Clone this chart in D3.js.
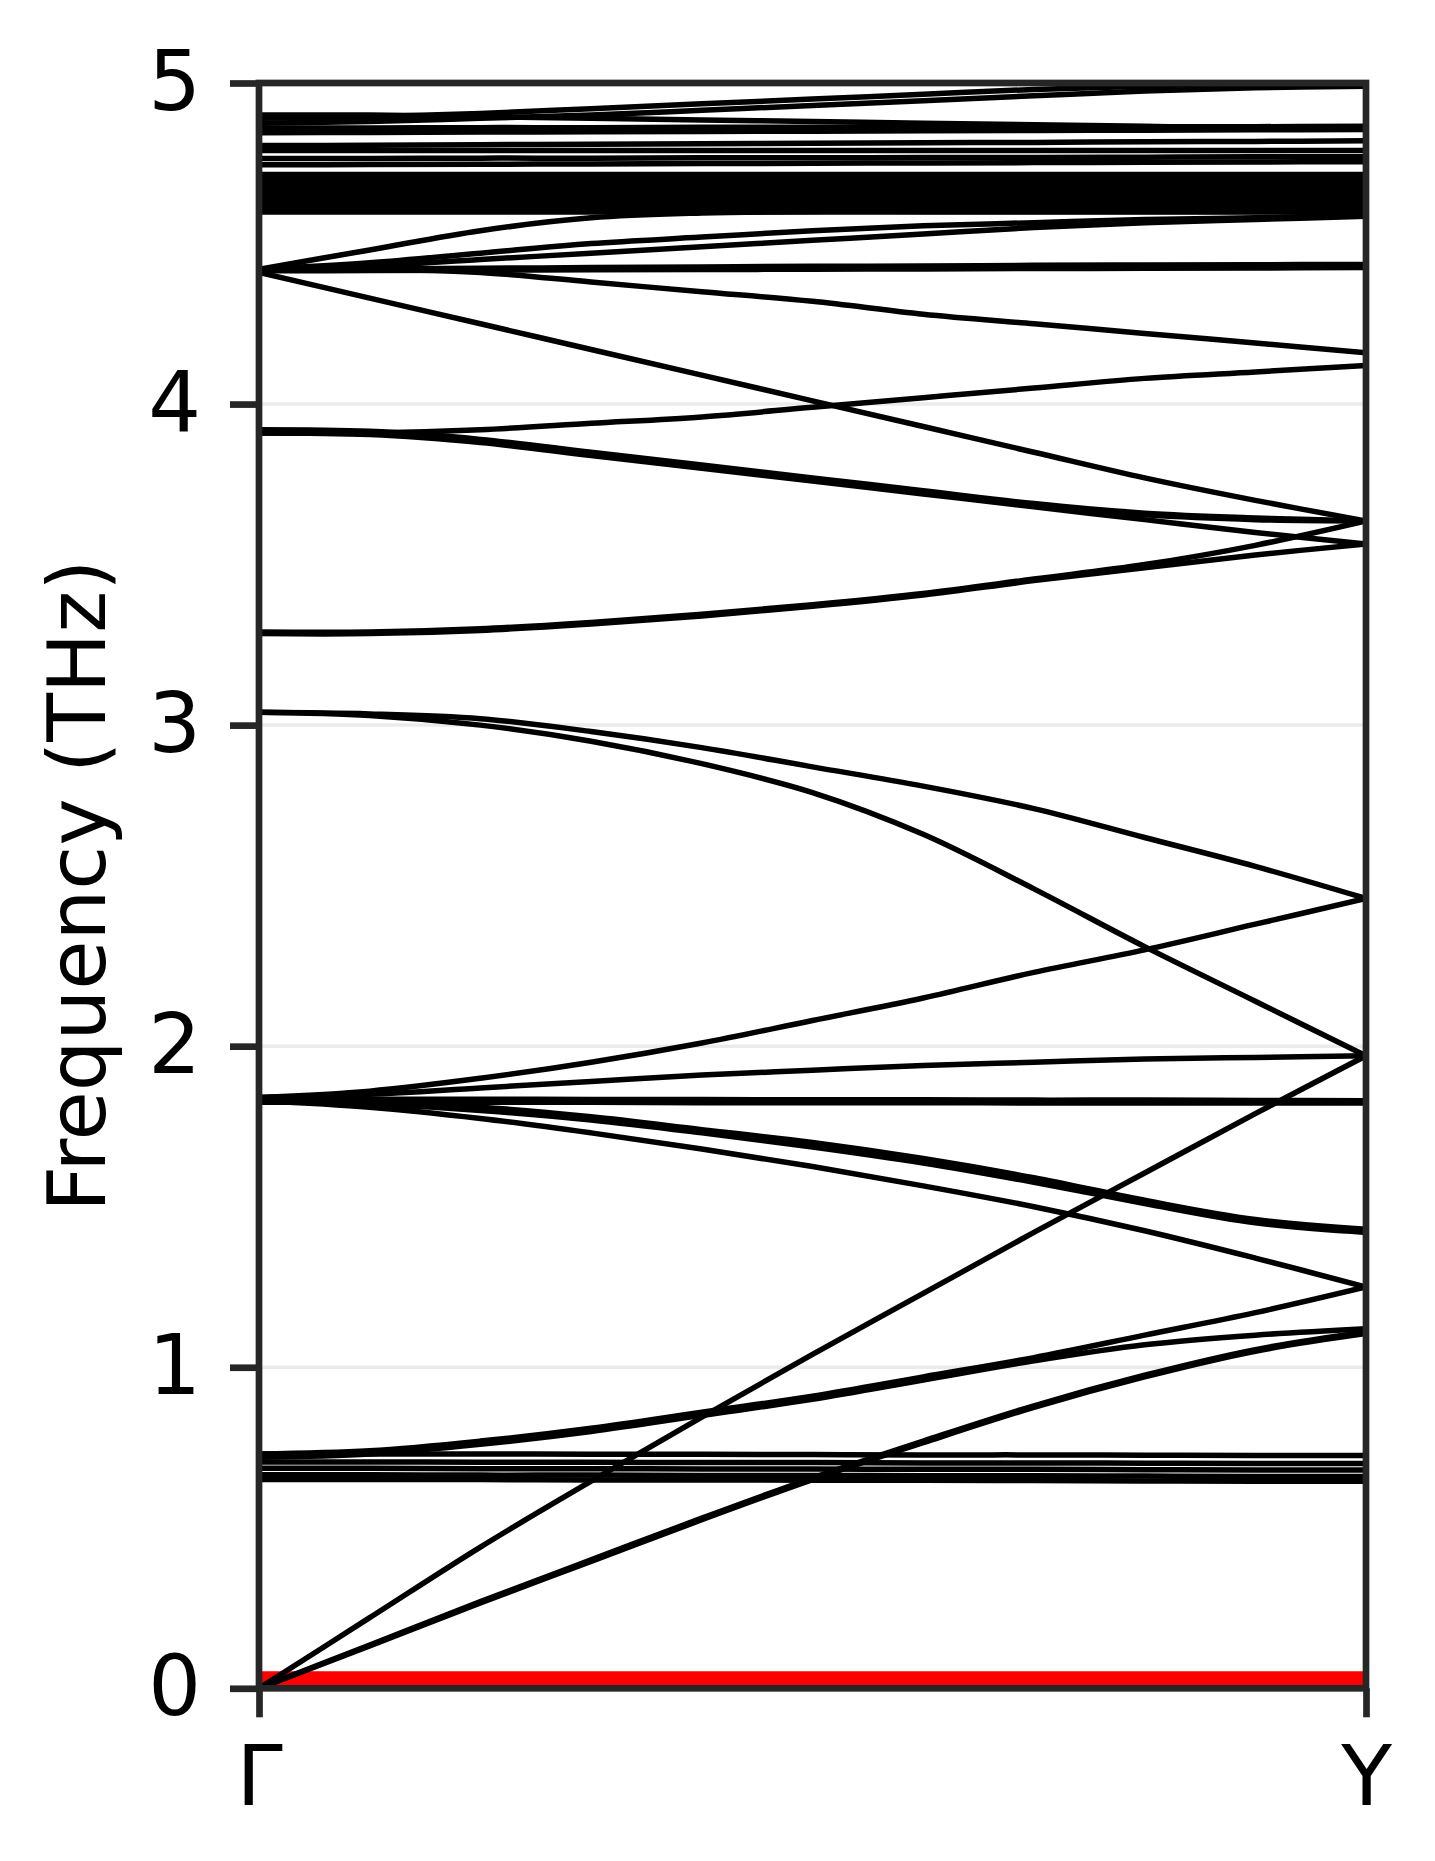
<!DOCTYPE html>
<html>
<head>
<meta charset="utf-8">
<script src="https://cdn.jsdelivr.net/npm/d3@7"></script>
<style>
  body { margin: 0; background: #fff; }
  svg { display: block; }
  text { font-family: "DejaVu Sans", sans-serif; }
</style>
</head>
<body>
<div id="bands"></div>
<script>

// path Γ -> Y, sampled every tenth of the segment
var kpts = [0, 0.1, 0.2, 0.3, 0.4, 0.5, 0.6, 0.7, 0.8, 0.9, 1.0];
var kLabels = ["Γ", "Y"];
var freqTicks = [0, 1, 2, 3, 4, 5];

// red branch sitting on zero
var zeroBand = [0, 0, 0, 0, 0, 0, 0, 0, 0, 0, 0];

// acoustic + low optical branches (THz)
var lowBands = [
  [0, 0.22, 0.44, 0.645, 0.845, 1.04, 1.23, 1.42, 1.605, 1.79, 1.97],
  [0, 0.135, 0.27, 0.40, 0.53, 0.655, 0.77, 0.88, 0.975, 1.055, 1.11],
  [0, 0.132, 0.266, 0.395, 0.525, 0.65, 0.765, 0.875, 0.97, 1.05, 1.105],
  [0.73, 0.73, 0.73, 0.729, 0.729, 0.728, 0.727, 0.727, 0.726, 0.725, 0.725],
  [0.705, 0.705, 0.704, 0.704, 0.703, 0.703, 0.702, 0.702, 0.701, 0.70, 0.70],
  [0.685, 0.685, 0.684, 0.684, 0.683, 0.683, 0.682, 0.682, 0.681, 0.68, 0.68],
  [0.665, 0.665, 0.664, 0.664, 0.663, 0.663, 0.662, 0.662, 0.661, 0.66, 0.66],
  [0.65, 0.65, 0.65, 0.649, 0.649, 0.648, 0.648, 0.647, 0.646, 0.645, 0.645],
  [0.73, 0.74, 0.77, 0.81, 0.86, 0.91, 0.97, 1.03, 1.10, 1.17, 1.25],
  [0.72, 0.73, 0.76, 0.80, 0.85, 0.90, 0.96, 1.02, 1.07, 1.10, 1.12]
];

// branches leaving the 1.83, 3.04, 3.28 and 3.9 THz groups
var midBands = [
  [1.84, 1.86, 1.90, 1.95, 2.01, 2.08, 2.15, 2.23, 2.30, 2.38, 2.46],
  [1.84, 1.85, 1.87, 1.89, 1.91, 1.925, 1.94, 1.95, 1.96, 1.965, 1.97],
  [1.835, 1.835, 1.835, 1.834, 1.834, 1.833, 1.833, 1.832, 1.832, 1.831, 1.83],
  [1.825, 1.825, 1.825, 1.825, 1.824, 1.824, 1.824, 1.823, 1.823, 1.823, 1.823],
  [1.83, 1.825, 1.81, 1.78, 1.74, 1.70, 1.65, 1.59, 1.52, 1.46, 1.43],
  [1.83, 1.822, 1.805, 1.775, 1.735, 1.692, 1.642, 1.582, 1.515, 1.455, 1.425],
  [1.83, 1.82, 1.80, 1.77, 1.73, 1.686, 1.636, 1.576, 1.51, 1.45, 1.42],
  [1.83, 1.81, 1.775, 1.73, 1.68, 1.625, 1.565, 1.50, 1.425, 1.34, 1.25],
  [3.04, 3.035, 3.02, 2.98, 2.93, 2.87, 2.81, 2.74, 2.65, 2.56, 2.46],
  [3.04, 3.03, 3.00, 2.95, 2.88, 2.79, 2.66, 2.49, 2.31, 2.14, 1.97],
  [3.29, 3.29, 3.30, 3.32, 3.345, 3.375, 3.41, 3.455, 3.50, 3.56, 3.636],
  [3.285, 3.285, 3.295, 3.315, 3.34, 3.37, 3.405, 3.45, 3.49, 3.53, 3.564],
  [3.92, 3.915, 3.89, 3.85, 3.81, 3.77, 3.73, 3.69, 3.66, 3.645, 3.636],
  [3.915, 3.91, 3.885, 3.845, 3.805, 3.765, 3.725, 3.685, 3.655, 3.64, 3.636],
  [3.91, 3.905, 3.88, 3.84, 3.80, 3.76, 3.72, 3.68, 3.64, 3.60, 3.564],
  [3.91, 3.91, 3.92, 3.94, 3.96, 3.99, 4.02, 4.05, 4.08, 4.10, 4.12]
];

// branches from 4.41 THz upward
var highBands = [
  [4.41, 4.33, 4.25, 4.17, 4.09, 4.01, 3.93, 3.85, 3.77, 3.70, 3.636],
  [4.42, 4.42, 4.41, 4.38, 4.35, 4.32, 4.28, 4.25, 4.22, 4.19, 4.16],
  [4.42, 4.421, 4.423, 4.425, 4.427, 4.429, 4.43, 4.432, 4.433, 4.434, 4.435],
  [4.415, 4.416, 4.417, 4.418, 4.419, 4.42, 4.421, 4.422, 4.423, 4.424, 4.425],
  [4.42, 4.48, 4.54, 4.58, 4.595, 4.60, 4.60, 4.60, 4.60, 4.60, 4.60],
  [4.42, 4.43, 4.45, 4.47, 4.49, 4.51, 4.53, 4.55, 4.565, 4.575, 4.585],
  [4.42, 4.44, 4.47, 4.50, 4.52, 4.54, 4.555, 4.565, 4.575, 4.58, 4.59],
  [4.598, 4.598, 4.598, 4.598, 4.598, 4.598, 4.598, 4.598, 4.598, 4.598, 4.598],
  [4.612, 4.612, 4.612, 4.612, 4.612, 4.612, 4.612, 4.612, 4.612, 4.612, 4.612],
  [4.626, 4.626, 4.626, 4.626, 4.626, 4.626, 4.626, 4.626, 4.626, 4.626, 4.626],
  [4.64, 4.64, 4.64, 4.64, 4.64, 4.64, 4.64, 4.64, 4.64, 4.64, 4.64],
  [4.655, 4.655, 4.655, 4.655, 4.655, 4.655, 4.655, 4.655, 4.655, 4.655, 4.655],
  [4.67, 4.67, 4.67, 4.67, 4.67, 4.67, 4.67, 4.67, 4.67, 4.67, 4.67],
  [4.685, 4.685, 4.685, 4.685, 4.685, 4.685, 4.685, 4.685, 4.685, 4.685, 4.685],
  [4.70, 4.70, 4.70, 4.70, 4.70, 4.70, 4.70, 4.70, 4.70, 4.70, 4.70],
  [4.715, 4.715, 4.715, 4.715, 4.715, 4.715, 4.715, 4.715, 4.715, 4.715, 4.715],
  [4.745, 4.746, 4.747, 4.748, 4.749, 4.75, 4.751, 4.752, 4.753, 4.754, 4.755],
  [4.765, 4.765, 4.766, 4.766, 4.767, 4.767, 4.768, 4.768, 4.769, 4.77, 4.77],
  [4.79, 4.79, 4.79, 4.79, 4.79, 4.79, 4.79, 4.79, 4.79, 4.79, 4.79],
  [4.805, 4.806, 4.808, 4.809, 4.811, 4.812, 4.814, 4.815, 4.817, 4.818, 4.82],
  [4.845, 4.846, 4.847, 4.848, 4.849, 4.85, 4.851, 4.852, 4.853, 4.854, 4.855],
  [4.86, 4.86, 4.861, 4.861, 4.862, 4.862, 4.863, 4.863, 4.864, 4.864, 4.865],
  [4.875, 4.88, 4.89, 4.90, 4.915, 4.93, 4.945, 4.96, 4.975, 4.985, 4.99],
  [4.89, 4.895, 4.905, 4.92, 4.935, 4.95, 4.965, 4.98, 4.99, 5.0, 5.005],
  [4.90, 4.90, 4.895, 4.89, 4.885, 4.88, 4.875, 4.87, 4.865, 4.86, 4.86]
];

var margin = {top: 83, right: 69, bottom: 172, left: 259},
    width = 1435 - margin.left - margin.right,
    height = 1861 - margin.top - margin.bottom - 0.7;

var svg = d3.select("#bands").append("svg")
    .attr("width", 1435)
    .attr("height", 1861)
  .append("g")
    .attr("transform", "translate(" + margin.left + "," + margin.top + ")");

var x = d3.scaleLinear().domain([0, 1]).range([0, width]);
var y = d3.scaleLinear().domain([0, 5]).range([height, 0]);

svg.append("clipPath")
    .attr("id", "clip")
  .append("rect")
    .attr("width", width)
    .attr("height", height);

// faint horizontal grid
svg.append("g")
  .selectAll("line")
  .data(freqTicks)
  .join("line")
    .attr("x1", 0)
    .attr("x2", width)
    .attr("y1", d => y(d))
    .attr("y2", d => y(d))
    .attr("stroke", "#ebebeb")
    .attr("stroke-width", 3.5);

var line = d3.line()
    .x((d, i) => x(kpts[i]))
    .y(d => y(d))
    .curve(d3.curveCatmullRom.alpha(0.5));

var plot = svg.append("g").attr("clip-path", "url(#clip)");

plot.append("path")
    .datum(zeroBand)
    .attr("d", line)
    .attr("fill", "none")
    .attr("stroke", "#ff0000")
    .attr("stroke-width", 34);

plot.selectAll("path.band")
    .data(lowBands.concat(midBands, highBands))
    .join("path")
    .attr("class", "band")
    .attr("d", line)
    .attr("fill", "none")
    .attr("stroke", "#000")
    .attr("stroke-width", 5.5);

// axes
var yAxis = svg.append("g")
    .call(d3.axisLeft(y).tickValues(freqTicks).tickFormat(d3.format("d"))
        .tickSize(29).tickPadding(29));

var xAxis = svg.append("g")
    .attr("transform", "translate(0," + height + ")")
    .call(d3.axisBottom(x).tickValues([0, 1]).tickFormat((d, i) => kLabels[i])
        .tickSize(29).tickPadding(29));

[yAxis, xAxis].forEach(function(a) {
  a.select(".domain").remove();
  a.selectAll(".tick line").attr("stroke", "#262626").attr("stroke-width", 6.7);
  a.selectAll(".tick text")
      .attr("fill", "#000")
      .style("font-family", "'DejaVu Sans', sans-serif")
      .style("font-size", "83px");
});

svg.append("rect")
    .attr("width", width)
    .attr("height", height)
    .attr("fill", "none")
    .attr("stroke", "#262626")
    .attr("stroke-width", 6.7);

svg.append("text")
    .attr("transform", "translate(" + (105 - margin.left) + "," + (height / 2) + ") rotate(-90)")
    .attr("text-anchor", "middle")
    .style("font-size", "80px")
    .text("Frequency (THz)");

</script>
</body>
</html>
